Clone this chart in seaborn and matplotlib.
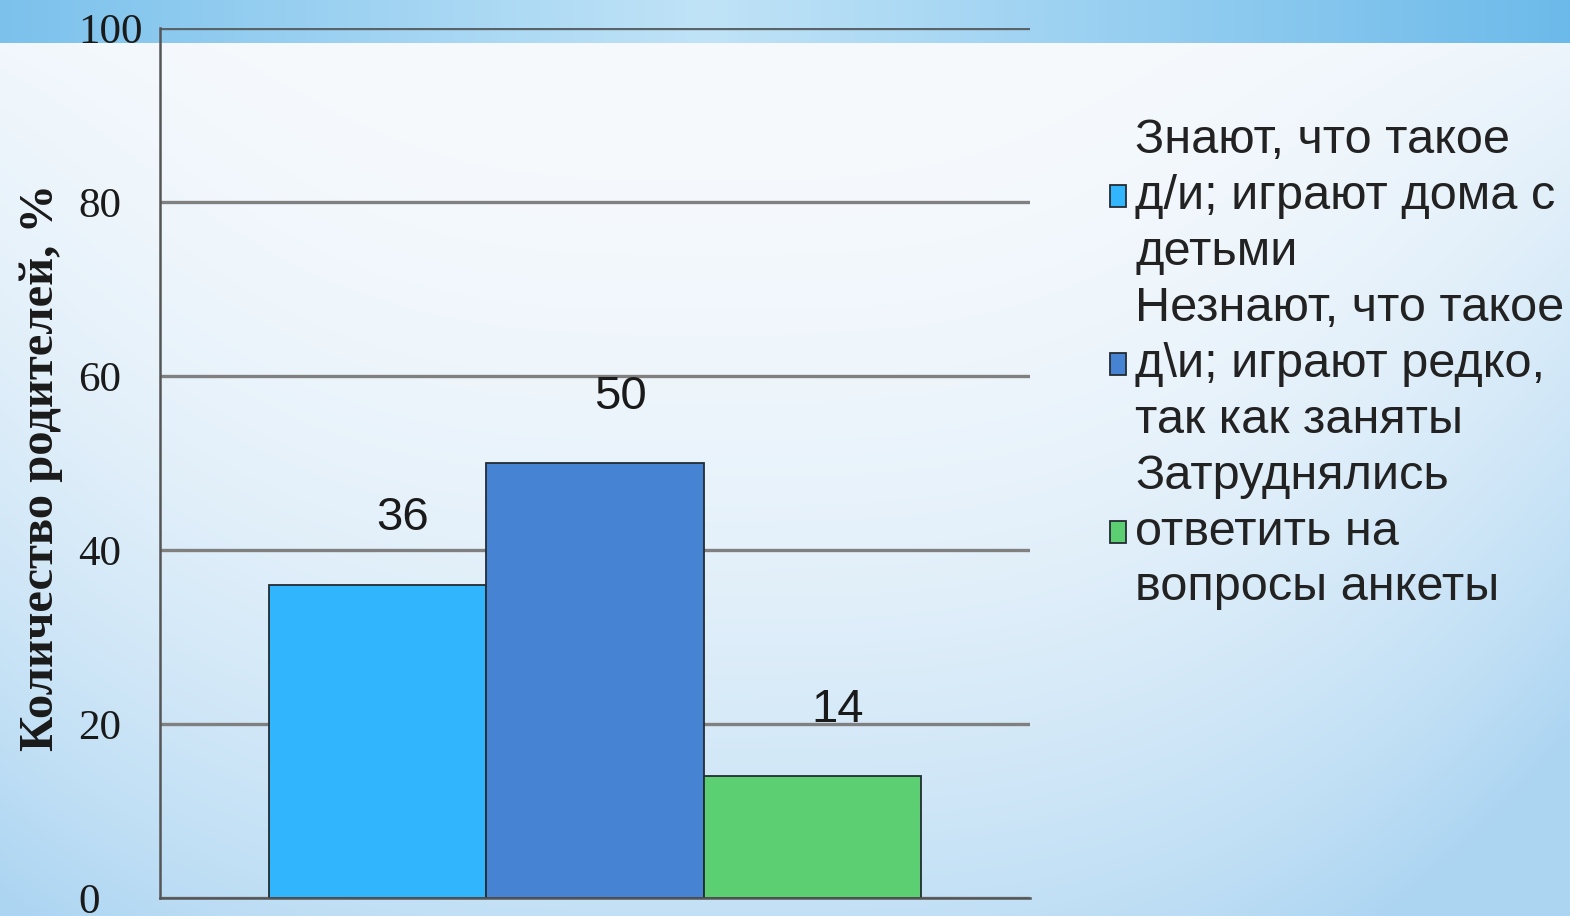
import numpy as np
import pandas as pd
import matplotlib.pyplot as plt
import seaborn as sns

group = ["Родители"] * 3
answers = [
    "Знают, что такое\nд/и; играют дома с\nдетьми",
    "Незнают, что такое\nд\\и; играют редко,\nтак как заняты",
    "Затруднялись\nответить на\nвопросы анкеты",
]
shares = [36, 50, 14]
bar_colors = ["#31B5FD", "#4683D3", "#5BCF72"]
y_ticks = [0, 20, 40, 60, 80, 100]

df = pd.DataFrame({"group": group, "answer": answers, "share": shares})

sns.set_theme(style="white")
plt.rcParams["font.family"] = ["Liberation Sans", "DejaVu Sans"]

W, H = 1570, 916
fig = plt.figure(figsize=(W / 100, H / 100), dpi=100)

# slide background: light gradient with a blue header strip
bg = fig.add_axes([0, 0, 1, 1], zorder=-10)
yy, xx = np.mgrid[0:H, 0:W]
xf = xx / W
yf = yy / H
t = 0.7 * yf**2 + 0.6 * (np.abs(xf - 0.45) / 0.55) ** 3 * np.sqrt(yf)
t = np.clip(t, 0, 1)[..., None]
white = np.array([247, 250, 253]) / 255
blue = np.array([172, 213, 242]) / 255
img = white * (1 - t) + blue * t
band = yy < 43
s = (np.abs(xf - 0.45) / 0.55)[..., None]
band_col = np.array([192, 227, 247]) / 255 * (1 - s) + np.array([108, 186, 234]) / 255 * s
img = np.where(band[..., None], band_col, img)
bg.imshow(img, aspect="auto", extent=[0, 1, 0, 1])
bg.axis("off")

ax = fig.add_axes([160 / W, 1 - 898 / H, 870 / W, 870 / H])
ax.patch.set_alpha(0)

sns.barplot(
    data=df,
    x="group",
    y="share",
    hue="answer",
    palette=bar_colors,
    saturation=1,
    width=0.75,
    edgecolor="#232c32",
    linewidth=1.3,
    ax=ax,
)

for cont in ax.containers:
    for ann in ax.bar_label(cont, padding=32, fontsize=34, color="#1a1a1a"):
        ann.xyann = (18, 32)

ax.set_ylim(0, 100)
ax.set_xlim(-0.5, 0.5)
ax.set_yticks(y_ticks)
ax.set_xticks([])
ax.set_xlabel("")
ax.yaxis.grid(True, color="#808080", linewidth=2.4)
ax.set_axisbelow(True)
ax.yaxis.get_gridlines()[-1].set_color("#5a6468")

for side in ["top", "right"]:
    ax.spines[side].set_visible(False)
for side in ["left", "bottom"]:
    ax.spines[side].set_color("#555555")
    ax.spines[side].set_linewidth(1.8)

ax.tick_params(axis="y", length=0, pad=59, labelsize=31, labelcolor="#1a1a1a")
for lbl in ax.get_yticklabels():
    lbl.set_ha("left")
    lbl.set_fontfamily("Liberation Serif")

ax.set_ylabel(
    "Количество родителей, %",
    fontfamily="Liberation Serif",
    fontweight="bold",
    fontsize=35,
    color="#1a1a1a",
)
ax.yaxis.set_label_coords(-0.112, 0.495)

handles, labels = ax.get_legend_handles_labels()
ax.get_legend().remove()
leg = fig.legend(
    handles,
    labels,
    loc="upper left",
    bbox_to_anchor=(1110 / W, 1 - 118 / H),
    frameon=False,
    fontsize=35,
    labelcolor="#222222",
    handlelength=0.32,
    handleheight=0.32,
    handletextpad=0.2,
    labelspacing=0.23,
    borderpad=0,
    borderaxespad=0,
)
for txt in leg.get_texts():
    txt.set_linespacing(1.31)

fig.savefig("out.png", dpi=100)
